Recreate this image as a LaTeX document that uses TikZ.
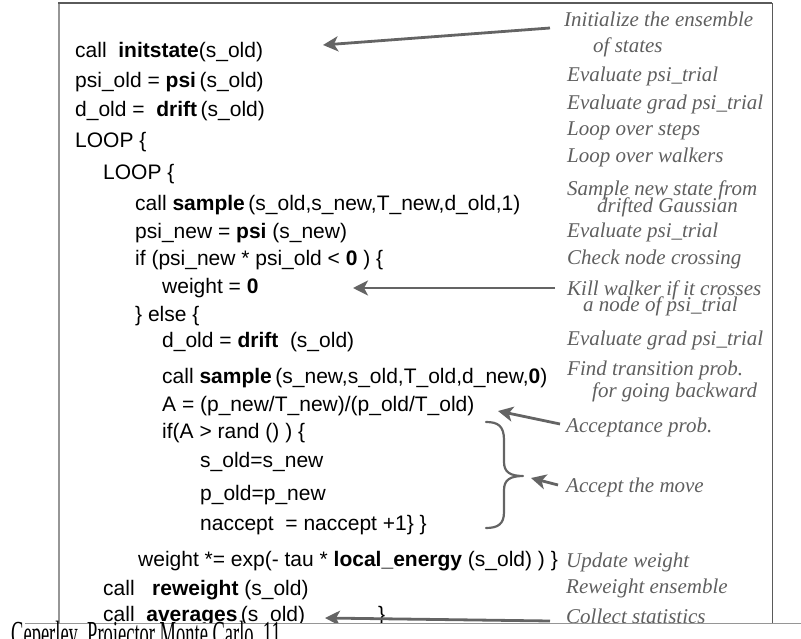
\documentclass[tikz,border=0pt]{standalone}
\usepackage{fontspec}
\setmainfont{Liberation Serif}
\setsansfont{Liberation Sans}
\usetikzlibrary{arrows.meta}
\definecolor{anngray}{RGB}{95,95,95}
\definecolor{arrgray}{RGB}{100,100,100}
\definecolor{frameL}{RGB}{150,150,150}
\definecolor{frameD}{RGB}{90,90,90}
\begin{document}
\begin{tikzpicture}[x=1pt,y=-1pt,
  code/.style={anchor=base west, inner sep=0pt, font=\sffamily\fontsize{21}{21}\selectfont},
  ann/.style={anchor=base west, inner sep=0pt, text=anngray, font=\rmfamily\itshape\fontsize{21}{21}\selectfont},
  pointer/.style={draw=arrgray, line width=2.8pt, -{Stealth[length=15pt,width=15pt,inset=4pt]}},
  bracepath/.style={draw=arrgray, line width=2.2pt, line cap=round},
]
\useasboundingbox (0,0) rectangle (801,639);
\begin{scope}
\clip (0,0) rectangle (801,623);
% code lines
\node[code] (c1) at (75,58) {call\ \ \textbf{initstate}(s\_old)};
\node[code] (c2) at (75,88) {psi\_old = \textbf{psi}\,(s\_old)};
\node[code] (c3) at (75,117) {d\_old = \ \textbf{drift}\,(s\_old)};
\node[code] (c4) at (75,148) {LOOP \{};
\node[code] (c5) at (103,180) {LOOP \{};
\node[code] (c6) at (135,211) {call \textbf{sample}\,(s\_old,s\_new,T\_new,d\_old,1)};
\node[code] (c7) at (135,239) {psi\_new = \textbf{psi} (s\_new)};
\node[code] (c8) at (135,266) {if (psi\_new * psi\_old < \textbf{0} ) \{};
\node[code] (c9) at (162,294) {weight = \textbf{0}};
\node[code] (c10) at (135,321) {\} else \{};
\node[code] (c11) at (162,347) {d\_old = \textbf{drift} \ (s\_old)};
\node[code] (c12) at (162,383) {call \textbf{sample}\,(s\_new,s\_old,T\_old,d\_new,\textbf{0})};
\node[code] (c13) at (162,411) {A = (p\_new/T\_new)/(p\_old/T\_old)};
\node[code] (c14) at (162,438) {if(A > rand () ) \{};
\node[code] (c15) at (200,467) {s\_old=s\_new};
\node[code] (c16) at (200,500) {p\_old=p\_new};
\node[code] (c17) at (200,530) {naccept \ = naccept +1\} \}};
\node[code] (c18) at (138,566) {weight *= exp(- tau * \textbf{local\_energy} (s\_old) ) \}};
\node[code] (c19) at (103,595) {call \ \ \textbf{reweight} (s\_old)};
\node[code] (c20) at (103,621) {call \ \textbf{averages}\,(s\_old)};
\node[code] (c21) at (378,621) {\}};
% annotations
\node[ann] (a1) at (564,27) {Initialize the ensemble};
\node[ann] (a1b) at (593,53) {of states};
\node[ann] (a2) at (567,82) {Evaluate psi\_trial};
\node[ann] (a3) at (567,110) {Evaluate grad psi\_trial};
\node[ann] (a4) at (567,136) {Loop over steps};
\node[ann] (a5) at (567,163) {Loop over walkers};
\node[ann] (a6) at (567,196) {Sample new state from};
\node[ann] (a6b) at (597,213) {drifted Gaussian};
\node[ann] (a7) at (567,238) {Evaluate psi\_trial};
\node[ann] (a8) at (567,265) {Check node crossing};
\node[ann] (a9) at (567,295) {Kill walker if it crosses};
\node[ann] (a9b) at (583,312) {a node of psi\_trial};
\node[ann] (a10) at (567,345) {Evaluate grad psi\_trial};
\node[ann] (a11) at (567,375) {Find transition prob.};
\node[ann] (a11b) at (592,397) {for going backward};
\node[ann] (a12) at (566,432) {Acceptance prob.};
\node[ann] (a13) at (566,492) {Accept the move};
\node[ann] (a14) at (566,567) {Update weight};
\node[ann] (a15) at (566,593) {Reweight ensemble};
\node[ann] (a16) at (566,623) {Collect statistics};
% arrow end points
\coordinate (t1) at (550,28);  \coordinate (h1) at (323,45);
\coordinate (t2) at (555,288); \coordinate (h2) at (353,288);
\coordinate (t3) at (560,424); \coordinate (h3) at (498,411);
\coordinate (t4) at (558,485); \coordinate (h4) at (531,478);
\coordinate (t5) at (550,621); \coordinate (h5) at (325,618);
\draw[pointer] (t1) -- (h1);
\draw[pointer] (t2) -- (h2);
\draw[pointer] (t3) -- (h3);
\draw[pointer] (t4) -- (h4);
\draw[pointer] (t5) -- (h5);
% brace
\coordinate (bt) at (486,422);
\coordinate (bm) at (523,476);
\coordinate (bb) at (486,528);
\draw[bracepath] (bt) .. controls (498,422) and (504,426) .. (504,440)
  -- (504,462) .. controls (504,472) and (510,476) .. (bm)
  (bm) .. controls (510,476) and (504,480) .. (504,490)
  -- (504,512) .. controls (504,524) and (498,528) .. (bb);
\end{scope}
% frame
\draw[frameL, line width=2pt] (59,3) -- (59,623);
\draw[frameD, line width=1.2pt] (58,3) -- (772,3);
\draw[frameD, line width=1pt] (772,3) -- (772,623);
\draw[frameL, line width=1pt] (25,623) -- (801,623);
% footer
\begin{scope}
\clip (0,600) rectangle (801,639);
\node[anchor=north west, inner sep=0pt, font=\rmfamily\fontsize{18.5}{18.5}\selectfont, yscale=1.9] (ft) at (11,621) {Ceperley \ Projector Monte Carlo \ 11};
\end{scope}
\end{tikzpicture}
\end{document}
